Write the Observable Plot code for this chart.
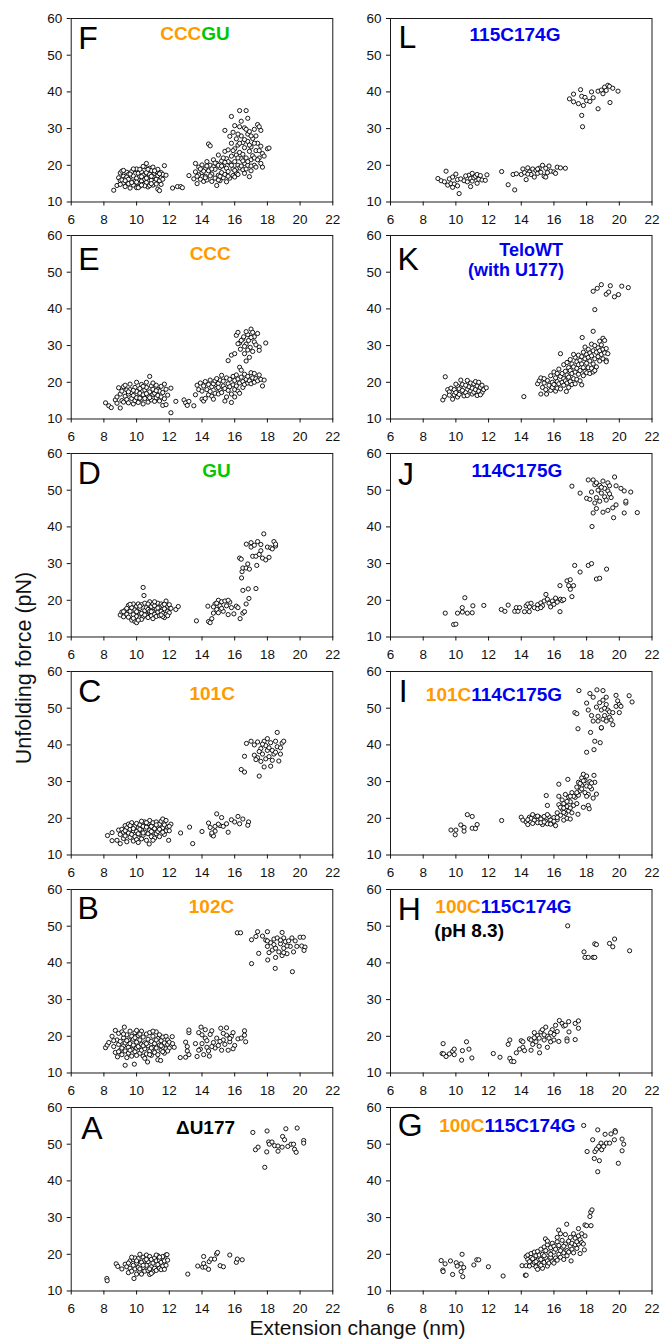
<!DOCTYPE html>
<html><head><meta charset="utf-8">
<script src="https://cdn.jsdelivr.net/npm/d3@7"></script>
<script src="https://cdn.jsdelivr.net/npm/@observablehq/plot@0.6"></script>
<style>
body{margin:0;background:#fff;}
#wrap{position:relative;width:660px;height:1343px;overflow:hidden;background:#fff;}
#wrap svg{position:absolute;}
</style></head><body><div id="wrap"></div>
<script>
const xTicks = [6,8,10,12,14,16,18,20,22];
const yTicks = [10,20,30,40,50,60];

const ptsF = [[8.6,13.2],[8.8,14.5],[8.9,16.6],[9.0,15.8],[9.0,17.9],[9.1,18.4],[9.2,15.2],[9.2,17.0],[9.3,14.2],[9.3,16.3],[9.4,18.1],[9.5,15.0],[9.5,17.5],[9.6,13.8],[9.6,16.0],[9.7,18.3],[9.8,14.6],[9.8,17.1],[9.9,15.6],[9.9,18.8],[10.0,13.9],[10.0,16.5],[10.1,17.8],[10.1,15.1],[10.2,14.3],[10.2,16.9],[10.3,18.2],[10.3,15.7],[10.4,17.3],[10.4,14.8],[10.5,19.6],[10.5,16.2],[10.6,20.5],[10.6,18.0],[10.6,15.3],[10.7,16.8],[10.7,14.1],[10.8,19.2],[10.8,17.5],[10.9,15.9],[10.9,18.6],[11.0,14.6],[11.0,16.9],[11.1,17.8],[11.1,15.4],[11.2,18.3],[11.2,16.2],[11.3,13.5],[11.3,17.2],[11.4,13.1],[11.4,15.8],[11.5,18.0],[11.5,16.6],[11.6,17.5],[11.7,19.9],[11.8,17.3],[9.4,16.8],[10.0,19.0],[10.4,19.7],[9.7,15.3],[10.9,17.0],[11.3,18.9],[9.1,16.0],[10.2,18.9],[10.8,14.5],[9.0,14.8],[9.2,18.6],[9.5,16.2],[9.8,19.0],[10.1,13.9],[10.3,16.9],[10.5,14.4],[10.7,18.9],[11.0,19.5],[11.2,14.9],[11.4,17.7],[11.6,16.2],[9.6,17.6],[10.0,15.4],[10.6,16.5],[11.1,18.5],[9.3,15.8],[10.3,14.6],[10.9,15.0],[11.5,14.8],
[12.2,13.8],[12.5,14.2],[12.7,14.2],[12.8,13.9],
[13.2,17.2],[13.5,16.3],[13.6,20.5],[13.6,18.2],[13.7,15.0],[13.8,19.5],[13.8,17.4],[13.9,16.2],[14.0,20.1],[14.0,18.0],[14.1,15.6],[14.2,19.0],[14.2,17.0],[14.3,21.0],[14.3,16.0],[14.4,25.8],[14.5,25.3],[14.4,18.5],[14.5,20.0],[14.6,15.6],[14.6,17.6],[14.7,19.6],[14.7,21.5],[14.8,16.5],[14.8,18.9],[14.9,14.5],[14.9,20.5],[15.0,17.3],[15.0,22.8],[15.1,19.4],[15.1,15.8],[15.2,21.2],[15.2,18.0],[15.3,16.6],[15.3,20.0],[15.4,29.5],[15.4,23.8],[15.4,17.5],[15.5,15.5],[15.5,19.2],[15.5,21.8],[15.6,24.2],[15.6,18.3],[15.7,16.5],[15.7,20.6],[15.7,27.9],[15.8,33.3],[15.8,22.5],[15.8,26.0],[15.9,19.0],[15.9,17.2],[15.9,29.0],[16.0,21.0],[16.0,24.5],[16.0,30.8],[16.1,18.0],[16.1,22.8],[16.1,27.2],[16.2,20.0],[16.2,17.5],[16.2,25.5],[16.3,34.9],[16.3,30.5],[16.3,23.5],[16.3,19.3],[16.4,21.8],[16.4,28.0],[16.5,26.2],[16.5,18.8],[16.5,23.0],[16.6,20.5],[16.6,30.2],[16.6,24.8],[16.7,34.9],[16.7,22.0],[16.7,19.0],[16.8,32.8],[16.8,28.5],[16.8,26.5],[16.8,20.0],[16.9,16.9],[16.9,23.8],[16.9,29.2],[17.0,25.0],[17.0,21.5],[17.0,18.5],[17.1,27.3],[17.1,22.6],[17.2,29.8],[17.2,20.0],[17.3,24.0],[17.3,19.5],[17.4,31.1],[17.4,26.0],[17.5,22.0],[17.6,29.5],[17.6,25.2],[17.7,19.5],[17.7,23.2],[17.8,22.5],[18.0,24.5],[18.1,24.7],[17.5,30.5],[16.4,32.0],[15.6,21.0],[14.1,18.4],[15.0,20.0],[16.1,19.0],[14.2,16.6],[14.5,17.1],[14.8,20.6],[15.0,16.0],[15.2,19.8],[15.3,22.0],[15.6,17.0],[15.8,20.0],[16.0,18.6],[16.2,22.0],[16.4,19.8],[16.6,17.8],[16.8,21.0],[17.0,19.8],[17.2,22.0],[14.6,19.0],[13.9,19.0],[15.4,20.8],[16.0,16.8],[16.5,21.2],[17.4,21.5],[17.6,20.5],[15.1,17.0],[14.3,19.8],[13.7,17.0],[16.9,25.5],[17.2,26.0],[16.2,28.5],[16.6,27.0],[15.9,24.0],[16.3,26.0],[17.5,24.0],[17.0,28.0],[16.7,29.8],[17.3,28.0]];

const ptsL = [[8.9,16.4],[9.1,15.8],[9.3,15.5],[9.4,18.4],[9.5,14.6],[9.6,16.3],[9.7,15.0],[9.8,16.8],[9.9,14.9],[10.0,17.6],[10.1,16.1],[10.1,14.4],[10.2,12.3],[10.3,16.3],[10.5,15.8],[10.7,15.5],[10.8,17.3],[10.9,16.4],[10.9,14.2],[11.0,17.8],[11.0,15.7],[11.1,16.6],[11.2,17.0],[11.3,15.1],[11.3,17.5],[11.4,16.2],[11.6,16.0],[11.8,15.9],[11.9,17.4],[10.6,17.1],[11.5,17.2],[9.8,14.0],
[12.8,18.3],[13.2,14.7],[13.6,13.3],[13.5,17.5],[13.7,17.7],[14.0,17.5],[14.1,19.0],[14.2,18.0],[14.3,16.1],[14.4,19.3],[14.5,18.2],[14.6,17.5],[14.7,19.0],[14.8,16.8],[14.9,18.6],[15.0,17.8],[15.1,19.2],[15.2,18.1],[15.3,20.0],[15.4,17.0],[15.5,16.8],[15.5,19.2],[15.7,19.8],[15.8,18.4],[16.0,18.2],[16.1,17.8],[16.2,19.5],[16.4,19.3],[16.7,19.2],[14.4,17.6],[15.0,19.0],[15.6,18.0],
[16.95,38.1],[17.2,39.4],[17.2,37.3],[17.5,36.8],[17.63,40.6],[17.7,38.8],[17.8,36.3],[17.7,33.6],[17.75,30.5],[17.9,38.5],[18.0,37.6],[18.2,37.4],[18.3,40.0],[18.4,38.4],[18.7,35.4],[18.7,40.2],[18.9,40.5],[19.0,39.5],[19.1,41.3],[19.2,40.4],[19.3,41.8],[19.4,41.5],[19.43,37.1],[19.6,41.0],[19.92,40.2]];

const ptsE = [[8.1,14.4],[8.3,13.6],[8.45,13.1],
[8.7,15.2],[8.8,16.0],[8.8,14.3],[8.9,18.5],[9.0,13.0],[9.0,16.8],[9.1,15.0],[9.1,17.6],[9.2,18.8],[9.2,14.6],[9.3,16.2],[9.4,17.9],[9.4,15.3],[9.5,14.4],[9.5,16.8],[9.6,19.5],[9.6,18.0],[9.7,15.6],[9.7,17.2],[9.8,14.1],[9.8,16.4],[9.9,18.6],[9.9,15.0],[10.0,17.5],[10.0,20.0],[10.1,16.0],[10.1,14.5],[10.2,18.3],[10.2,17.0],[10.3,15.4],[10.3,19.4],[10.4,16.6],[10.4,14.1],[10.5,17.9],[10.5,15.6],[10.6,20.0],[10.6,18.6],[10.7,16.3],[10.7,14.6],[10.8,21.6],[10.8,17.4],[10.9,15.2],[10.9,19.0],[11.0,16.7],[11.0,18.1],[11.1,14.8],[11.1,17.0],[11.2,19.2],[11.2,15.8],[11.3,18.0],[11.3,16.4],[11.4,14.9],[11.4,17.6],[11.5,18.9],[11.5,16.0],[11.6,13.7],[11.6,17.2],[11.7,19.5],[11.7,15.5],[11.8,13.9],[11.8,18.1],[11.9,16.5],[9.3,19.2],[10.0,15.8],[10.6,16.9],[11.0,19.8],[9.5,17.4],[10.4,18.9],[10.8,15.8],[11.2,17.7],[9.8,17.8],[10.2,15.7],
[12.1,18.4],[12.1,11.7],[12.4,14.8],[12.9,15.2],[13.0,14.4],[13.1,13.7],[13.2,14.8],[13.5,13.6],
[13.6,16.6],[13.7,19.2],[13.8,18.0],[13.9,19.8],[14.0,15.4],[14.0,17.6],[14.1,14.9],[14.1,19.0],[14.2,20.2],[14.3,18.0],[14.4,16.6],[14.4,19.4],[14.5,17.5],[14.5,20.6],[14.6,18.8],[14.6,16.2],[14.7,15.4],[14.7,19.6],[14.8,17.0],[14.8,20.4],[14.9,18.4],[15.0,16.8],[15.0,19.7],[15.1,20.6],[15.1,18.0],[15.2,17.2],[15.2,21.9],[15.3,19.0],[15.3,20.3],[15.4,18.3],[15.5,16.0],[15.5,21.2],[15.6,19.6],[15.6,17.8],[15.7,20.8],[15.7,18.8],[15.8,14.5],[15.8,16.8],[15.9,21.6],[15.9,19.3],[16.0,18.0],[16.0,20.5],[16.1,22.0],[16.1,19.0],[16.2,17.6],[16.2,20.9],[16.3,24.1],[16.3,17.0],[16.3,19.8],[16.4,23.3],[16.4,21.4],[16.5,18.6],[16.5,20.2],[16.6,22.2],[16.6,19.4],[16.7,20.8],[16.8,19.8],[16.8,21.6],[16.9,20.4],[17.0,22.6],[17.0,19.6],[17.1,21.2],[17.2,20.0],[17.2,22.4],[17.3,21.0],[17.4,20.4],[17.5,22.0],[17.6,20.8],[17.7,19.0],[17.8,20.6],[14.2,15.6],[15.4,14.9],[14.9,21.0],[16.0,16.0],[15.0,18.6],
[15.6,25.9],[15.8,27.4],[16.0,27.8],[16.1,32.8],[16.2,33.6],[16.3,30.7],[16.35,29.0],[16.5,31.8],[16.55,32.4],[16.6,27.8],[16.7,25.8],[16.7,30.4],[16.8,33.0],[16.85,31.4],[17.0,34.5],[16.95,29.5],[17.1,28.4],[17.1,33.6],[17.2,31.0],[17.2,32.4],[17.3,30.2],[17.4,33.3],[17.5,29.6],[17.5,28.7],[17.9,30.7],[16.4,31.4],[16.9,26.8],[17.0,32.2],[16.6,29.8],[16.2,30.5],[16.8,28.8],[16.7,33.8]];

const ptsK = [[9.2,15.2],[9.3,16.1],[9.35,21.5],[9.5,18.0],[9.6,17.4],[9.7,18.4],[9.8,15.4],[9.9,18.0],[9.9,16.6],[10.0,17.2],[10.1,19.0],[10.1,16.0],[10.2,18.2],[10.3,20.6],[10.3,17.4],[10.4,19.4],[10.5,16.3],[10.5,18.5],[10.6,17.2],[10.7,20.5],[10.7,16.4],[10.8,18.8],[10.9,17.6],[10.9,19.8],[11.0,16.8],[11.0,18.4],[11.1,19.6],[11.1,17.3],[11.2,20.2],[11.2,18.0],[11.3,16.4],[11.3,19.0],[11.4,17.6],[11.4,20.0],[11.5,18.6],[11.6,17.2],[11.6,19.2],[11.7,18.0],[11.86,18.5],[10.6,19.2],[10.0,19.5],[10.4,17.8],[11.5,16.6],[10.2,16.7],[9.6,16.5],
[14.16,16.1],
[15.0,19.6],[15.1,20.4],[15.2,21.2],[15.2,16.8],[15.3,18.6],[15.4,19.8],[15.5,18.0],[15.55,16.8],[15.6,20.5],[15.7,19.2],[15.8,21.8],[15.8,17.8],[15.9,20.0],[15.9,18.6],[16.0,22.8],[16.0,19.4],[16.1,17.6],[16.1,21.2],[16.2,20.2],[16.2,18.4],[16.3,23.6],[16.3,19.6],[16.4,27.8],[16.4,21.6],[16.4,18.2],[16.5,22.4],[16.5,20.0],[16.6,24.8],[16.6,19.2],[16.6,21.0],[16.7,23.0],[16.7,20.4],[16.76,17.5],[16.8,25.4],[16.8,22.0],[16.8,19.8],[16.9,24.0],[16.9,21.4],[17.0,26.2],[17.0,23.2],[17.0,20.2],[17.1,22.4],[17.1,19.4],[17.1,25.0],[17.2,24.2],[17.2,21.0],[17.3,26.8],[17.3,22.8],[17.3,19.6],[17.4,25.6],[17.4,23.8],[17.4,20.8],[17.5,27.4],[17.5,22.2],[17.5,24.8],[17.6,26.0],[17.6,20.4],[17.6,23.2],[17.7,25.0],[17.73,32.2],[17.7,19.3],[17.7,27.0],[17.8,24.0],[17.8,21.8],[17.8,28.2],[17.9,26.4],[17.9,23.0],[18.0,27.6],[18.0,25.2],[18.0,22.6],[18.1,29.0],[18.1,26.8],[18.1,24.0],[18.2,28.0],[18.2,25.8],[18.2,22.4],[18.3,30.4],[18.3,27.2],[18.3,23.8],[18.4,33.9],[18.4,28.6],[18.4,25.0],[18.4,22.8],[18.5,30.0],[18.5,26.4],[18.6,28.2],[18.6,24.2],[18.7,29.4],[18.7,27.0],[18.8,31.2],[18.8,28.6],[18.8,25.8],[18.9,30.2],[18.9,27.6],[19.0,32.0],[19.0,29.0],[19.0,26.4],[19.1,31.4],[19.1,28.0],[19.2,26.0],[19.2,29.2],[19.3,27.8],[19.2,25.6],[16.2,22.4],[15.4,21.0],[17.2,27.6],[18.5,23.2],[17.9,29.6],[16.9,18.6],
[18.4,44.8],[18.65,45.6],[18.9,46.6],[18.5,39.8],[19.2,44.0],[19.35,44.6],[19.45,46.3],[19.7,43.3],[19.95,43.9],[20.15,46.2],[20.55,45.8]];

const ptsD = [[9.0,16.0],[9.1,16.8],[9.2,15.5],[9.3,17.3],[9.4,16.2],[9.5,18.6],[9.5,15.4],[9.6,17.0],[9.7,14.6],[9.7,18.0],[9.8,16.1],[9.8,19.0],[9.9,14.2],[9.9,17.4],[10.0,13.9],[10.0,15.6],[10.0,18.4],[10.1,16.8],[10.1,19.0],[10.2,15.2],[10.2,17.8],[10.3,16.4],[10.3,18.8],[10.4,23.5],[10.45,21.3],[10.4,15.5],[10.5,17.2],[10.5,19.2],[10.6,16.0],[10.6,18.0],[10.7,15.3],[10.7,17.5],[10.8,19.6],[10.8,16.6],[10.9,18.3],[10.9,15.8],[11.0,17.0],[11.0,19.0],[11.1,16.2],[11.1,18.5],[11.2,15.6],[11.2,17.6],[11.3,19.2],[11.3,16.8],[11.4,18.2],[11.4,15.8],[11.5,17.0],[11.5,19.0],[11.6,16.4],[11.6,18.6],[11.7,15.3],[11.7,17.7],[11.8,19.8],[11.8,16.2],[11.9,18.4],[11.9,17.0],[12.0,18.8],[12.0,16.6],[12.1,17.8],[12.4,17.5],[12.55,18.3],[9.6,18.9],[10.0,16.9],[10.3,14.8],[10.7,19.0],[11.0,15.0],[11.3,17.9],[11.6,15.6],[9.4,17.8],[10.2,18.4],[10.8,17.0],[11.5,16.0],[9.8,15.1],[11.1,19.6],[11.9,15.8],[10.5,16.0],[9.2,16.9],[10.9,16.9],[11.7,18.9],[10.1,14.6],
[13.66,14.4],[14.36,18.4],[14.4,14.2],[14.5,13.9],[14.6,15.0],[14.7,16.5],[14.8,19.0],[14.9,17.5],[15.0,20.0],[15.0,16.6],[15.1,18.5],[15.2,19.6],[15.3,17.0],[15.4,19.8],[15.5,18.5],[15.6,16.1],[15.7,19.5],[15.8,18.0],[15.95,16.3],[16.1,18.4],[16.2,18.0],[14.9,19.2],[15.2,17.8],[15.6,20.0],[14.7,18.2],
[16.33,15.0],[16.5,16.5],[16.6,16.9],[16.5,22.7],[16.7,19.0],[16.83,23.1],[17.3,23.2],[16.87,20.5],[16.3,31.5],[16.4,31.2],[16.42,26.1],[16.45,27.8],[16.5,28.8],[16.7,28.8],[16.8,29.9],[16.9,28.5],[17.0,34.5],[16.71,35.3],[17.0,35.7],[17.1,32.0],[17.2,35.0],[17.3,32.0],[17.4,36.0],[17.35,29.5],[17.5,32.5],[17.6,33.5],[17.6,35.2],[17.7,31.5],[17.78,38.1],[17.9,31.0],[18.0,34.5],[18.1,31.7],[18.2,34.3],[18.3,34.0],[18.4,36.0],[18.5,34.8],[18.5,35.3]];

const ptsJ = [[9.35,16.5],[9.86,13.4],[10.0,13.5],[10.1,16.5],[10.4,16.8],[10.39,18.0],[10.55,20.7],[10.7,16.5],[11.0,16.6],[11.04,18.5],[11.71,18.6],
[12.78,17.5],[13.0,17.0],[13.2,18.7],[13.6,17.0],[13.7,18.0],[13.8,17.0],[13.9,18.0],[14.2,16.9],[14.3,18.5],[14.4,19.0],[14.49,16.9],[14.6,19.2],[14.8,18.0],[15.0,18.8],[15.0,17.7],[15.2,19.3],[15.3,18.5],[15.4,19.8],[15.51,21.6],[15.6,20.3],[15.7,19.2],[15.8,18.2],[15.9,19.8],[16.0,18.9],[16.1,20.6],[16.2,19.5],[16.4,20.3],[16.37,16.9],[16.5,19.9],[16.6,20.2],[16.37,24.0],[16.8,25.3],[16.9,24.0],[17.0,25.6],[17.0,23.0],[17.1,21.0],[17.2,24.0],[17.27,29.5],[17.6,27.7],[18.1,29.5],[18.3,30.0],[18.6,25.8],[18.8,26.0],[19.22,28.5],[14.5,18.2],[15.2,18.0],
[17.1,51.1],[17.6,49.2],[18.0,47.8],[18.1,52.8],[18.2,47.5],[18.3,49.5],[18.33,40.1],[18.4,43.8],[18.4,52.8],[18.5,51.5],[18.5,46.5],[18.6,45.0],[18.6,48.0],[18.7,50.0],[18.8,51.3],[18.8,47.0],[18.9,49.2],[19.0,52.5],[19.0,44.0],[19.1,48.2],[19.1,50.5],[19.2,47.3],[19.3,52.0],[19.3,49.8],[19.3,44.5],[19.4,51.2],[19.5,48.0],[19.6,45.2],[19.65,42.5],[19.71,53.6],[19.8,46.0],[19.8,51.2],[20.1,50.5],[20.3,49.8],[20.3,43.8],[20.4,46.5],[20.4,47.0],[20.7,49.5],[21.1,43.9],[18.9,50.8],[19.4,49.0],[18.6,52.0]];

const ptsC = [[8.22,15.3],[8.5,13.9],[8.5,16.1],[8.8,14.0],[8.9,16.8],[9.0,13.1],[9.0,15.6],[9.1,17.0],[9.2,14.5],[9.2,16.2],[9.3,18.0],[9.3,15.2],[9.4,13.6],[9.4,17.4],[9.5,16.0],[9.5,18.4],[9.6,14.8],[9.6,17.0],[9.7,15.6],[9.7,18.8],[9.8,13.8],[9.8,16.6],[9.9,17.8],[9.9,15.0],[10.0,18.6],[10.0,14.2],[10.0,16.4],[10.1,13.4],[10.1,17.4],[10.2,15.6],[10.2,18.2],[10.3,16.8],[10.3,14.4],[10.4,17.8],[10.4,15.4],[10.5,19.0],[10.5,16.2],[10.6,14.0],[10.6,17.6],[10.7,15.8],[10.7,18.6],[10.77,13.0],[10.8,16.8],[10.8,19.4],[10.9,15.0],[10.9,17.8],[11.0,16.2],[11.0,18.8],[11.1,14.6],[11.1,17.2],[11.2,19.0],[11.2,15.8],[11.3,17.8],[11.3,16.4],[11.4,15.0],[11.4,18.4],[11.5,16.8],[11.5,19.2],[11.6,17.4],[11.6,19.8],[11.7,15.6],[11.7,18.2],[11.8,16.6],[11.8,19.4],[11.9,17.6],[11.96,14.0],[12.0,16.6],[12.1,18.4],[12.0,17.8],[9.6,18.0],[10.3,19.2],[10.9,16.4],[11.2,18.2],[9.8,17.2],[10.4,16.0],[10.6,18.8],[11.4,17.0],[10.1,15.8],[9.3,16.6],[11.0,14.0],[10.2,17.0],[11.6,16.2],
[12.69,16.0],[13.24,17.6],[13.43,13.1],[14.0,16.4],[14.4,18.7],[14.5,17.5],[14.6,15.5],[14.7,15.2],[14.8,16.5],[14.8,17.8],[14.9,21.2],[15.1,18.0],[15.2,20.2],[15.3,17.8],[15.5,18.5],[15.6,16.2],[15.8,19.6],[16.0,19.0],[16.2,20.5],[16.3,18.5],[16.5,19.8],[16.85,19.0],[16.8,18.1],[14.6,16.0],[15.0,18.4],
[16.4,33.3],[16.6,32.6],[16.6,36.9],[16.72,40.4],[17.0,41.0],[17.2,40.0],[17.2,37.2],[17.4,36.5],[17.4,40.8],[17.5,31.5],[17.6,39.0],[17.6,35.5],[17.7,37.5],[17.8,34.0],[17.8,41.0],[17.9,36.2],[17.9,39.8],[18.0,38.5],[18.0,41.7],[18.1,36.8],[18.2,34.2],[18.2,40.6],[18.3,38.5],[18.3,35.8],[18.4,37.5],[18.5,41.0],[18.6,39.5],[18.6,43.4],[18.7,35.6],[18.8,37.5],[18.8,39.2],[18.9,40.5],[19.0,41.0],[17.5,38.2],[18.1,39.2],[17.3,36.0],[17.7,40.2],[18.5,38.0]];

const ptsI = [[9.7,16.8],[9.96,15.5],[10.0,16.8],[10.3,18.2],[10.5,17.5],[10.5,16.5],[10.7,21.0],[11.0,20.5],[11.0,17.3],[11.2,17.2],[11.3,18.3],
[12.8,19.4],
[14.0,20.3],[14.1,19.5],[14.3,19.0],[14.4,18.3],[14.5,20.3],[14.6,20.0],[14.7,21.0],[14.8,19.5],[14.9,20.5],[15.0,18.8],[15.1,20.3],[15.2,19.8],[15.3,18.3],[15.4,20.5],[15.5,19.2],[15.53,26.2],[15.6,23.5],[15.6,18.5],[15.7,20.5],[15.8,19.5],[15.9,18.7],[16.0,20.2],[16.1,18.0],[16.2,21.5],[16.2,19.6],[16.3,29.3],[16.3,23.7],[16.3,26.0],[16.4,20.8],[16.5,22.5],[16.5,25.0],[16.6,19.5],[16.6,24.0],[16.7,21.3],[16.7,26.5],[16.8,23.2],[16.8,20.0],[16.85,30.6],[16.9,25.8],[16.9,22.0],[17.0,19.8],[17.0,24.5],[17.1,27.0],[17.1,21.5],[17.2,23.5],[17.3,25.7],[17.4,28.5],[17.4,24.0],[17.5,29.8],[17.47,21.1],[17.5,26.3],[17.6,27.5],[17.7,31.0],[17.7,29.0],[17.8,23.0],[17.8,32.0],[17.9,27.0],[17.9,30.3],[18.0,28.8],[18.0,31.5],[18.1,26.5],[18.1,23.5],[18.2,30.0],[18.16,22.6],[18.3,28.0],[18.4,25.5],[18.45,31.7],[18.5,29.8],[18.6,26.6],[14.4,19.6],[14.7,18.6],[15.0,20.6],[15.2,18.8],[15.4,19.0],[15.6,21.0],[15.8,18.4],[16.0,19.2],[16.2,20.2],[16.4,23.0],[16.6,21.6],[16.8,24.6],[17.0,22.8],[17.2,26.0],[17.4,27.0],[17.6,29.5],[17.8,30.2],[18.0,26.0],[18.2,28.6],[17.0,26.0],[16.6,22.8],[18.3,29.6],[17.7,28.0],
[17.28,48.8],[17.4,48.5],[17.47,44.4],[17.53,54.8],[18.24,43.4],[18.0,38.0],[18.0,51.4],[18.1,49.5],[18.2,54.0],[18.3,48.0],[18.4,46.5],[18.4,53.0],[18.5,41.0],[18.45,38.7],[18.63,55.0],[18.6,50.3],[18.7,47.8],[18.7,46.5],[18.8,51.5],[18.83,40.6],[18.9,44.6],[18.9,49.5],[19.0,54.8],[19.0,47.0],[19.0,52.2],[19.1,50.0],[19.1,48.0],[19.2,51.0],[19.2,46.5],[19.3,49.5],[19.4,49.0],[19.4,47.5],[19.5,46.8],[19.6,45.5],[19.6,48.8],[19.8,50.5],[19.8,53.5],[19.9,52.0],[20.0,51.0],[20.0,48.8],[20.1,50.5],[20.6,53.4],[20.78,51.7],[18.9,44.7],[19.2,53.0]];

const ptsB = [[8.1,16.9],[8.2,17.6],[8.3,18.3],[8.5,20.0],[8.6,17.2],[8.7,21.6],[8.7,15.6],[8.8,19.0],[8.83,14.4],[8.9,17.8],[8.9,20.8],[9.0,16.2],[9.0,18.6],[9.1,15.0],[9.1,21.2],[9.2,17.4],[9.2,19.6],[9.25,22.5],[9.3,12.1],[9.3,16.0],[9.3,18.2],[9.4,14.2],[9.4,20.4],[9.5,17.0],[9.5,19.0],[9.5,15.4],[9.6,21.4],[9.6,18.0],[9.7,16.4],[9.7,14.6],[9.7,20.0],[9.8,17.6],[9.8,19.2],[9.86,12.4],[9.9,15.8],[9.9,21.0],[10.0,18.4],[10.0,16.8],[10.0,14.8],[10.1,20.2],[10.1,17.2],[10.2,19.0],[10.2,15.4],[10.3,21.4],[10.3,17.8],[10.3,16.2],[10.4,19.8],[10.4,14.6],[10.5,18.2],[10.5,16.6],[10.6,20.6],[10.6,15.2],[10.67,13.0],[10.7,17.4],[10.7,19.2],[10.8,21.0],[10.8,16.0],[10.9,18.6],[10.9,14.8],[11.0,17.0],[11.0,20.0],[11.1,15.6],[11.1,18.0],[11.2,21.2],[11.2,16.8],[11.3,19.4],[11.3,13.6],[11.3,15.0],[11.4,17.6],[11.4,20.4],[11.47,13.4],[11.5,16.2],[11.5,18.8],[11.6,19.8],[11.6,17.0],[11.7,15.4],[11.7,18.2],[11.8,16.6],[11.8,20.0],[11.9,17.8],[11.9,19.0],[12.0,16.8],[12.0,18.4],[12.18,19.9],[12.3,17.0],[12.2,18.0],[9.4,18.8],[9.9,19.6],[10.4,17.4],[10.9,16.8],[11.5,17.4],[9.1,16.8],[10.6,18.0],[11.2,19.0],[9.6,16.2],[10.2,20.6],[10.8,15.0],[11.9,16.0],[8.9,15.8],[10.0,21.6],[11.0,21.4],[9.2,20.6],[10.5,14.0],[11.6,15.8],[8.6,18.8],
[12.67,14.2],[13.0,18.4],[13.0,14.3],[13.1,17.2],[13.1,16.0],[13.2,21.0],[13.2,15.0],[13.2,21.7],[13.6,18.0],[13.7,14.5],[13.8,21.0],[13.9,16.5],[13.94,22.5],[14.0,18.0],[14.1,15.0],[14.2,21.8],[14.2,19.5],[14.3,17.0],[14.4,16.0],[14.45,14.6],[14.5,20.5],[14.6,21.5],[14.7,18.3],[14.8,16.8],[14.9,19.5],[15.0,17.5],[15.2,16.2],[15.15,22.2],[15.3,19.0],[15.4,17.8],[15.5,20.3],[15.6,16.2],[15.5,22.3],[15.7,18.5],[15.8,20.0],[15.9,21.0],[16.0,17.5],[15.9,16.6],[16.2,19.3],[16.4,19.5],[16.6,21.5],[16.6,20.3],[16.67,18.5],[13.8,16.2],[14.3,18.8],[14.6,17.2],[15.1,18.6],[15.7,19.4],[14.0,20.4],[15.3,20.8],
[16.16,48.2],[16.36,48.2],[17.03,39.8],[17.03,46.3],[17.3,47.2],[17.4,48.5],[17.47,42.6],[17.7,47.3],[17.9,46.2],[18.0,44.5],[18.0,48.5],[18.1,42.8],[18.02,40.8],[18.2,45.5],[18.3,43.5],[18.4,46.5],[18.5,41.5],[18.5,44.0],[18.48,38.5],[18.6,46.8],[18.7,43.0],[18.8,45.2],[18.9,48.3],[18.9,42.0],[19.0,46.8],[19.0,44.0],[19.1,45.8],[19.2,42.5],[19.3,46.0],[19.4,44.5],[19.5,46.8],[19.6,43.0],[19.53,37.6],[19.7,46.0],[19.8,44.5],[20.0,47.0],[20.1,44.6],[20.2,47.0],[20.3,44.3],[20.24,43.4],[18.0,46.0],[18.8,46.2],[19.2,44.6],[18.4,45.0],[19.0,42.8]];

const ptsH = [[9.16,15.3],[9.25,15.2],[9.22,18.0],[9.4,14.5],[9.6,15.2],[9.8,15.9],[9.9,15.0],[9.9,16.5],[10.35,13.5],[10.4,16.1],[10.65,18.5],[10.8,16.5],[10.98,14.1],
[12.29,15.3],[12.7,14.3],[13.2,17.8],[13.3,19.0],[13.3,14.0],[13.4,13.2],[13.55,13.1],[13.7,15.5],[13.9,16.5],[14.0,18.8],[14.1,18.5],[14.1,17.0],[14.2,16.1],[14.5,19.3],[14.6,19.0],[14.6,16.2],[14.7,17.8],[14.8,21.0],[14.9,18.5],[15.0,20.2],[15.1,17.3],[15.1,19.5],[15.12,15.5],[15.2,21.2],[15.3,21.8],[15.4,19.0],[15.5,22.5],[15.6,20.0],[15.6,17.0],[15.7,19.5],[15.8,18.5],[15.9,21.8],[16.0,20.5],[16.0,19.0],[16.1,23.0],[16.2,21.3],[16.3,18.6],[16.33,24.3],[16.5,23.5],[16.6,22.8],[16.7,23.0],[16.8,19.3],[16.8,18.7],[16.9,24.0],[16.92,21.2],[17.3,23.5],[17.3,19.1],[17.5,24.2],[17.5,22.2],[14.8,19.6],[15.4,20.4],[15.8,21.0],
[16.84,50.1],[17.84,43.0],[17.9,41.5],[18.1,41.5],[18.4,41.5],[18.5,41.5],[18.5,45.2],[18.6,45.0],[19.4,45.3],[19.6,44.4],[19.71,46.5],[20.63,43.3]];

const ptsA = [[8.18,13.4],[8.2,12.8],[8.75,17.4],[8.85,16.7],[9.1,16.0],[9.3,17.3],[9.4,16.6],[9.5,15.0],[9.6,18.2],[9.6,16.2],[9.7,15.4],[9.8,18.6],[9.8,17.0],[9.84,13.4],[9.9,16.0],[9.9,19.0],[10.0,14.6],[10.0,17.6],[10.1,18.8],[10.1,16.4],[10.2,15.2],[10.2,20.0],[10.3,17.8],[10.3,14.6],[10.4,19.2],[10.4,16.4],[10.5,15.4],[10.5,18.4],[10.6,19.8],[10.6,17.0],[10.7,15.6],[10.7,18.0],[10.8,14.5],[10.8,19.4],[10.9,16.6],[10.9,18.6],[11.0,15.2],[11.0,17.6],[11.1,19.0],[11.1,16.2],[11.2,18.2],[11.2,15.6],[11.3,17.2],[11.3,19.6],[11.4,16.2],[11.4,18.4],[11.5,15.8],[11.5,17.8],[11.6,19.4],[11.6,16.8],[11.7,18.2],[11.7,15.9],[11.8,19.8],[11.8,17.0],[11.86,19.9],[11.9,18.4],[9.5,17.6],[10.0,18.2],[10.4,17.0],[10.8,16.0],[11.2,19.8],[10.2,16.0],[10.6,18.6],[9.7,19.2],[11.4,19.2],[10.9,14.8],
[13.13,14.6],[13.74,16.8],[14.04,16.5],[14.1,19.4],[14.1,17.5],[14.2,16.5],[14.4,15.9],[14.44,18.0],[14.55,18.7],[14.77,18.7],[14.89,20.1],[14.95,20.5],[15.11,16.9],[15.31,16.6],[15.7,19.8],[16.1,17.8],[16.16,18.7],[16.46,18.5],
[17.11,53.2],[17.27,48.5],[17.43,49.2],[17.84,43.7],[17.98,53.6],[17.96,47.9],[18.08,50.6],[18.12,50.0],[18.28,50.6],[18.44,49.6],[18.65,49.5],[18.65,48.1],[18.9,49.2],[18.93,52.1],[19.05,51.2],[19.13,54.2],[19.25,49.4],[19.45,50.0],[19.6,50.0],[19.66,48.6],[19.76,47.8],[19.82,54.4],[20.22,51.0],[20.22,50.3]];

const ptsG = [[9.1,18.3],[9.2,15.7],[9.22,15.3],[9.34,17.4],[9.67,18.2],[9.8,14.5],[10.02,17.7],[10.08,16.8],[10.32,17.4],[10.38,20.0],[10.32,15.3],[10.42,13.9],[10.48,16.4],[11.1,17.1],[11.28,18.5],[11.4,18.5],[11.99,16.6],[12.89,14.1],[14.05,16.9],[14.3,16.9],[14.25,14.3],[14.3,14.3],
[14.3,19.4],[14.4,18.6],[14.4,19.8],[14.5,18.0],[14.6,19.2],[14.6,20.2],[14.7,17.2],[14.7,18.8],[14.8,20.6],[14.8,17.8],[14.9,19.6],[14.9,16.6],[15.0,15.9],[15.0,18.4],[15.0,20.8],[15.1,17.4],[15.1,19.8],[15.2,21.4],[15.2,18.6],[15.3,16.2],[15.3,20.0],[15.4,17.8],[15.4,22.0],[15.48,24.2],[15.5,19.0],[15.5,21.0],[15.6,16.8],[15.6,22.6],[15.6,18.2],[15.7,20.4],[15.7,17.6],[15.8,21.8],[15.8,19.2],[15.9,23.0],[15.9,18.0],[16.0,20.6],[16.0,22.2],[16.1,19.0],[16.1,21.4],[16.2,18.4],[16.2,23.4],[16.29,26.6],[16.3,20.0],[16.3,22.4],[16.4,25.6],[16.4,19.2],[16.5,21.6],[16.5,23.8],[16.6,20.4],[16.6,18.6],[16.7,22.8],[16.7,25.4],[16.78,28.2],[16.8,21.0],[16.8,19.6],[16.9,23.6],[16.9,20.6],[17.0,22.2],[17.05,18.2],[17.1,21.4],[17.1,23.0],[17.2,25.6],[17.2,20.4],[17.3,22.6],[17.3,24.4],[17.4,21.6],[17.5,27.0],[17.5,25.0],[17.5,22.8],[17.6,24.0],[17.6,20.2],[17.7,25.6],[17.7,23.2],[17.8,22.8],[17.86,21.2],[17.9,28.0],[17.9,25.0],[18.0,27.8],[18.27,27.8],[18.2,30.3],[18.25,31.5],[18.33,32.1],[14.5,16.8],[15.2,17.0],[15.8,20.0],[16.4,21.0],[17.0,24.6],[15.4,19.6],[16.6,22.2],[16.0,17.6],[17.4,23.4],[16.2,24.6],[15.6,23.6],[14.9,18.0],
[17.82,55.1],[18.03,48.0],[18.37,51.2],[18.47,46.1],[18.51,48.0],[18.61,48.7],[18.68,53.9],[18.68,42.5],[18.78,45.5],[18.74,49.4],[18.88,50.3],[18.92,48.5],[19.04,49.4],[19.13,52.7],[19.21,50.3],[19.41,50.3],[19.49,52.8],[19.7,51.2],[19.74,53.7],[19.76,53.3],[19.94,44.8],[20.17,51.4],[20.17,48.2],[20.27,50.0]];

const ORANGE = "#ff9a00", GREEN = "#00c800", BLUE = "#0000f0", BLACK = "#000";
const FONT = "'Liberation Sans', Arial, Helvetica, sans-serif";

// layout
const rowTops = [17.7, 235.2, 453.0, 670.8, 889.4, 1107.2];
const frameH = 183.5;
const cols = [
  {left: 0, ml: 70.7, fw: 261.6, mr: 12},
  {left: 349.5, ml: 40, fw: 261.5, mr: 9}
];
const MT = 8, MB = 26;

// each label: segments [text, colour], anchor, dx, dy (baseline from frame top), optional size
const panels = [
  {pts: ptsF, col: 0, row: 0, letter: "F", ldx: 7, ldy: 30.6, labels: [{segs: [["CCC", ORANGE], ["GU", GREEN]], anchor: "middle", dx: 123.8, dy: 21.6}]},
  {pts: ptsL, col: 1, row: 0, letter: "L", ldx: 8, ldy: 29, labels: [{segs: [["115C174G", BLUE]], anchor: "middle", dx: 124.5, dy: 22.3}]},
  {pts: ptsE, col: 0, row: 1, letter: "E", ldx: 7, ldy: 34.1, labels: [{segs: [["CCC", ORANGE]], anchor: "middle", dx: 139, dy: 24.1}]},
  {pts: ptsK, col: 1, row: 1, letter: "K", ldx: 7, ldy: 34.1, labels: [{segs: [["TeloWT", BLUE]], anchor: "end", dx: 172.5, dy: 20.0, size: 18}, {segs: [["(with U177)", BLUE]], anchor: "end", dx: 173.5, dy: 40.8, size: 18}]},
  {pts: ptsD, col: 0, row: 2, letter: "D", ldx: 6.5, ldy: 31, labels: [{segs: [["GU", GREEN]], anchor: "middle", dx: 145.3, dy: 23.3}]},
  {pts: ptsJ, col: 1, row: 2, letter: "J", ldx: 7.5, ldy: 31, labels: [{segs: [["114C175G", BLUE]], anchor: "middle", dx: 126.3, dy: 23.3}]},
  {pts: ptsC, col: 0, row: 3, letter: "C", ldx: 7, ldy: 30.2, labels: [{segs: [["101C", ORANGE]], anchor: "middle", dx: 141, dy: 28.2}]},
  {pts: ptsI, col: 1, row: 3, letter: "I", ldx: 8.2, ldy: 30.2, labels: [{segs: [["101C", ORANGE], ["114C175G", BLUE]], anchor: "middle", dx: 103.5, dy: 29.2}]},
  {pts: ptsB, col: 0, row: 4, letter: "B", ldx: 6.2, ldy: 29.6, labels: [{segs: [["102C", ORANGE]], anchor: "middle", dx: 140.3, dy: 23.6}]},
  {pts: ptsH, col: 1, row: 4, letter: "H", ldx: 7.2, ldy: 30.9, labels: [{segs: [["100C", ORANGE], ["115C174G", BLUE]], anchor: "middle", dx: 113, dy: 23.6}, {segs: [["(pH 8.3)", BLACK]], anchor: "start", dx: 43.8, dy: 47.9}]},
  {pts: ptsA, col: 0, row: 5, letter: "A", ldx: 10, ldy: 31.1, labels: [{segs: [["\u0394U177", BLACK]], anchor: "middle", dx: 134.3, dy: 26.8}]},
  {pts: ptsG, col: 1, row: 5, letter: "G", ldx: 7.3, ldy: 28.8, labels: [{segs: [["100C", ORANGE], ["115C174G", BLUE]], anchor: "middle", dx: 116.8, dy: 24.5}]}
];

const wrap = document.getElementById("wrap");

for (const p of panels) {
  const c = cols[p.col];
  const marks = [
    Plot.frame({stroke: "#1a1a1a", strokeWidth: 1}),
    Plot.axisX({ticks: xTicks, tickSize: 4, tickPadding: 8, label: null, fontSize: 13.5}),
    Plot.axisY({ticks: yTicks, tickSize: 4, tickPadding: 5, label: null, fontSize: 13.5}),
    Plot.dot(p.pts, {x: d => d[0], y: d => d[1], r: 2.1, fill: "white", stroke: "#000", strokeWidth: 0.9}),
    Plot.text([p.letter], {text: d => d, frameAnchor: "top-left", dx: p.ldx, dy: p.ldy, textAnchor: "start", lineAnchor: "bottom", fontSize: 32, fill: "#000"})
  ];
  for (const lab of p.labels) {
    const full = lab.segs.map(s => s[0]).join("");
    marks.push(Plot.text([full], {text: d => d, frameAnchor: "top-left", dx: lab.dx, dy: lab.dy, textAnchor: lab.anchor, lineAnchor: "bottom", fontSize: lab.size || 19, fontWeight: "bold", fill: lab.segs[0][1]}));
  }
  const svg = Plot.plot({
    width: c.ml + c.fw + c.mr,
    height: MT + frameH + MB,
    marginLeft: c.ml, marginRight: c.mr, marginTop: MT, marginBottom: MB,
    x: {domain: [6, 22]},
    y: {domain: [10, 60]},
    style: {fontFamily: FONT, fontSize: "13.5px", color: "#111", background: "transparent", overflow: "visible"},
    marks
  });
  // colour the parts of multi-colour labels with tspans inside the same text element
  for (const lab of p.labels) {
    if (lab.segs.length < 2) continue;
    const full = lab.segs.map(s => s[0]).join("");
    d3.select(svg).selectAll("text").filter(function () { return this.textContent === full; }).each(function () {
      const t = d3.select(this);
      t.text(null);
      for (const [s, col] of lab.segs) t.append("tspan").attr("fill", col).text(s);
    });
  }
  svg.style.left = c.left + "px";
  svg.style.top = (rowTops[p.row] - MT) + "px";
  wrap.appendChild(svg);
}

// axis titles
const ns = "http://www.w3.org/2000/svg";
const ov = document.createElementNS(ns, "svg");
ov.setAttribute("width", 660); ov.setAttribute("height", 1343);
ov.style.left = "0px"; ov.style.top = "0px"; ov.style.pointerEvents = "none";
const yt = document.createElementNS(ns, "text");
yt.setAttribute("transform", "translate(30.5,668) rotate(-90)");
yt.setAttribute("text-anchor", "middle");
yt.setAttribute("font-family", FONT);
yt.setAttribute("font-size", "21.5");
yt.setAttribute("fill", "#111");
yt.textContent = "Unfolding force (pN)";
ov.appendChild(yt);
const xt = document.createElementNS(ns, "text");
xt.setAttribute("x", 357.5); xt.setAttribute("y", 1334.5);
xt.setAttribute("text-anchor", "middle");
xt.setAttribute("font-family", FONT);
xt.setAttribute("font-size", "21");
xt.setAttribute("fill", "#111");
xt.textContent = "Extension change (nm)";
ov.appendChild(xt);
wrap.appendChild(ov);
</script>
</body></html>
